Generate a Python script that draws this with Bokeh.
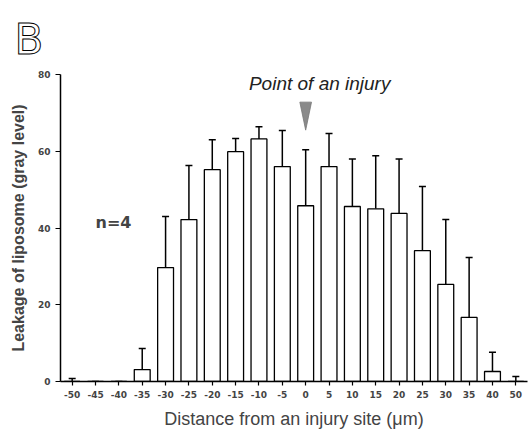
import numpy as np
from bokeh.plotting import figure
from bokeh.models import (ColumnDataSource, Range1d, FixedTicker, Whisker, TeeHead,
                          Label, Title)
from bokeh.embed import file_html
from bokeh.resources import INLINE

# ---- data ----
distance_labels = ["-50", "-45", "-40", "-35", "-30", "-25", "-20", "-15", "-10", "-5",
                   "0", "5", "10", "15", "20", "25", "30", "35", "40", "50"]
leakage_mean = [0.0, 0.0, 0.0, 3.1, 29.7, 42.2, 55.2, 59.9, 63.2, 56.0,
                45.8, 56.0, 45.6, 45.0, 43.8, 34.1, 25.3, 16.7, 2.6, 0.0]
leakage_upper = [0.8, 0.0, 0.0, 8.6, 43.0, 56.3, 63.0, 63.3, 66.4, 65.4,
                 60.4, 64.6, 58.0, 58.8, 58.0, 50.8, 42.2, 32.3, 7.6, 1.3]
y_ticks = [0, 20, 40, 60, 80]
injury_label = "0"

pos = list(range(len(distance_labels)))
src = ColumnDataSource(dict(x=pos, top=leakage_mean, upper=leakage_upper))

p = figure(width=531, height=432, output_backend="svg", toolbar_location=None,
           x_range=Range1d(-0.5, len(pos) - 0.5), y_range=Range1d(0, 80),
           min_border_left=60, min_border_right=4, min_border_top=74,
           min_border_bottom=51)
p.outline_line_color = None
p.grid.grid_line_color = None
p.background_fill_color = "white"
p.border_fill_color = "white"

p.vbar(x="x", top="top", bottom=0, width=0.68, source=src,
       fill_color="white", line_color="black", line_width=1.3)

wh = Whisker(base="x", lower="top", upper="upper", source=src,
             upper_head=TeeHead(size=7, line_width=1.5, line_color="black"),
             lower_head=None, line_width=1.5, line_color="black")
p.add_layout(wh)

# axes
xa = p.xaxis[0]
xa.ticker = FixedTicker(ticks=pos)
xa.major_label_overrides = {i: l for i, l in enumerate(distance_labels)}
xa.minor_tick_line_color = None
xa.major_tick_out = 4
xa.major_tick_in = 0
xa.axis_line_width = 1.5
xa.major_tick_line_width = 1.2
xa.major_label_text_font = "DejaVu Sans"
xa.major_label_text_font_size = "9px"
xa.major_label_text_font_style = "bold"
xa.major_label_standoff = 5
xa.axis_label = "Distance from an injury site (\u03bcm)"
xa.axis_label_text_font = "Liberation Sans"
xa.axis_label_text_font_size = "18px"
xa.axis_label_text_font_style = "normal"
xa.axis_label_standoff = 8

ya = p.yaxis[0]
ya.ticker = FixedTicker(ticks=y_ticks)
ya.minor_tick_line_color = None
ya.major_tick_out = 5
ya.major_tick_in = 0
ya.axis_line_width = 1.5
ya.major_tick_line_width = 1.2
ya.major_label_text_font = "DejaVu Sans"
ya.major_label_text_font_size = "9px"
ya.major_label_text_font_style = "bold"
ya.major_label_standoff = 5
ya.axis_label = "Leakage of liposome (gray level)"
ya.axis_label_text_font = "Liberation Sans"
ya.axis_label_text_font_size = "16px"
ya.axis_label_text_font_style = "bold"
ya.axis_label_standoff = 8

# annotations
x0 = distance_labels.index(injury_label)
p.patch([x0 - 0.25, x0 + 0.25, x0], [72.8, 72.8, 65.5],
        fill_color="#8a8a8a", line_color="#777777", line_width=0.8)

p.add_layout(Label(x=x0 + 0.6, y=77.6, text="Point of an injury",
                   text_font="Liberation Sans", text_font_style="italic",
                   text_font_size="19px", text_align="center",
                   text_baseline="middle", text_color="#222222"))
p.add_layout(Label(x=1.0, y=41.4, text="n=4", text_font="DejaVu Sans",
                   text_font_style="bold", text_font_size="16px",
                   text_align="left", text_baseline="middle"))
p.add_layout(Title(text="B", text_font="DejaVu Sans", text_font_style="normal",
                   text_font_size="42px", align="left", offset=-46,
                   text_color="white", text_outline_color="black",
                   standoff=21), "above")

open("out.html", "w").write(file_html(p, INLINE))
